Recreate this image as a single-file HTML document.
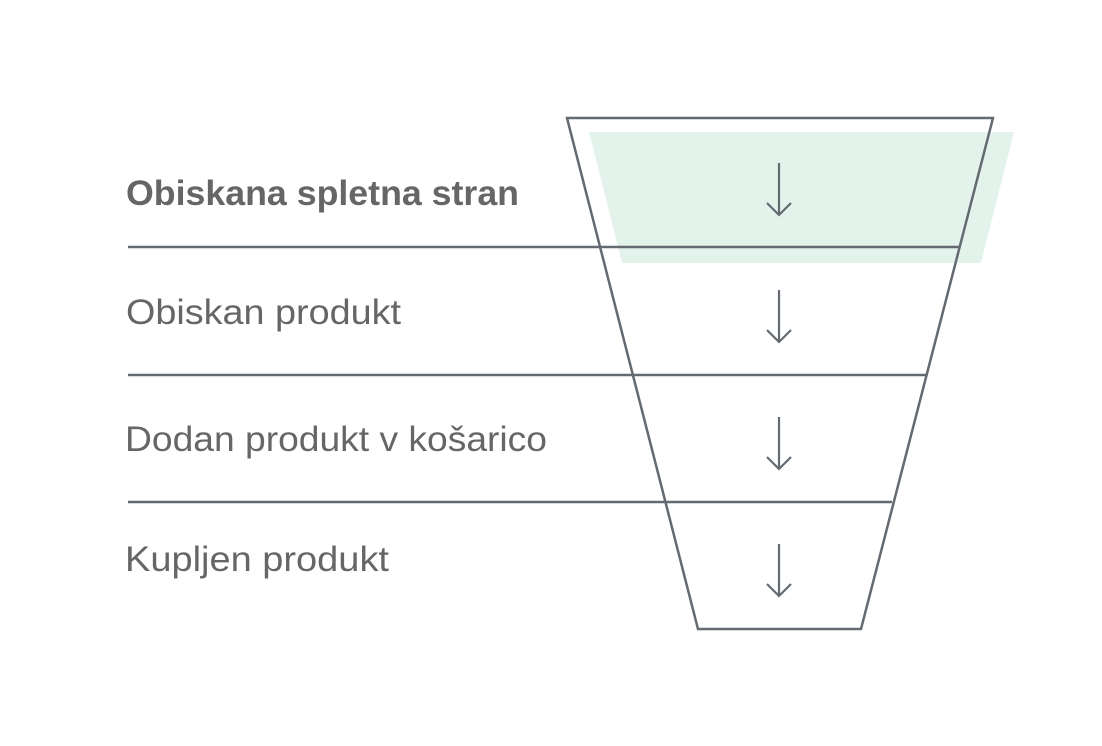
<!DOCTYPE html>
<html><head><meta charset="utf-8"><style>
html,body{margin:0;padding:0;background:#fff;width:1102px;height:746px;overflow:hidden}
</style></head><body>
<svg width="1102" height="746" viewBox="0 0 1102 746" xmlns="http://www.w3.org/2000/svg">
<rect width="1102" height="746" fill="#fff"/>
<polygon points="589,132 1014,132 981,263 622,263" fill="#e3f3ec"/>
<g stroke="#646a71" stroke-width="2.5" fill="none">
<polygon points="567,118 993,118 861,629 698,629"/>
<line x1="128" y1="247" x2="959" y2="247"/>
<line x1="128" y1="375" x2="926" y2="375"/>
<line x1="128" y1="502" x2="892" y2="502"/>
</g>
<g stroke="#646a71" stroke-width="2.2" fill="none">
<path d="M779,163V215M767,203L779,215L791,203"/>
<path d="M779,290V342M767,330L779,342L791,330"/>
<path d="M779,417V469M767,457L779,469L791,457"/>
<path d="M779,544V596M767,584L779,596L791,584"/>
</g>
<g font-family="Liberation Sans, sans-serif" font-size="35" fill="#666">
<text x="126" y="205" font-weight="bold" textLength="393" lengthAdjust="spacingAndGlyphs">Obiskana spletna stran</text>
<text x="126" y="324" textLength="275" lengthAdjust="spacingAndGlyphs">Obiskan produkt</text>
<text x="125" y="451" textLength="422" lengthAdjust="spacingAndGlyphs">Dodan produkt v košarico</text>
<text x="125" y="571" textLength="264" lengthAdjust="spacingAndGlyphs">Kupljen produkt</text>
</g>
</svg>
</body></html>
